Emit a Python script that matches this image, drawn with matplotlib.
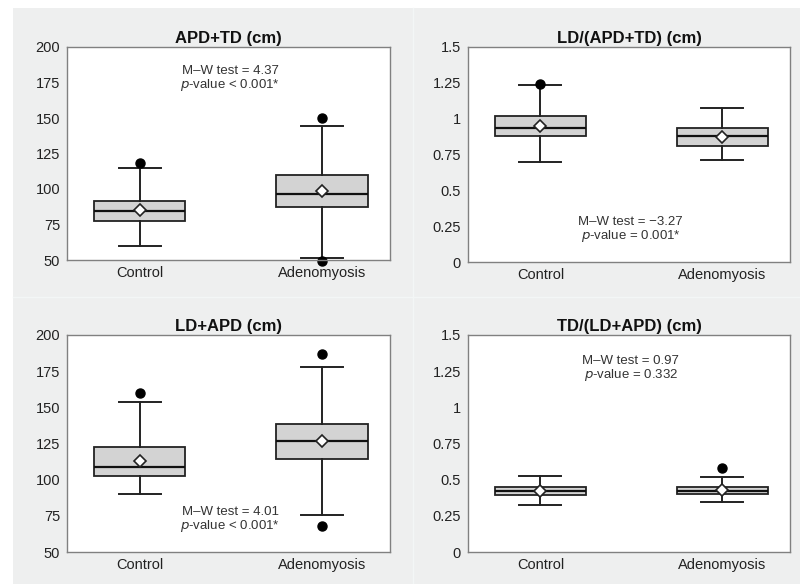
import matplotlib.pyplot as plt
from matplotlib.patches import Rectangle
from matplotlib.lines import Line2D

plt.rcParams['font.family'] = ['Liberation Sans', 'DejaVu Sans']

groups = ['Control', 'Adenomyosis']

titles = ['APD+TD (cm)', 'LD/(APD+TD) (cm)', 'LD+APD (cm)', 'TD/(LD+APD) (cm)']

# box stats per panel: [control, adenomyosis]
q1 = [[77.4, 87.0], [0.879, 0.807], [102.6, 114.0], [0.391, 0.402]]
med = [[84.5, 96.6], [0.937, 0.877], [109.1, 126.5], [0.419, 0.423]]
q3 = [[91.7, 109.8], [1.019, 0.935], [122.3, 138.8], [0.447, 0.447]]
whis_lo = [[60.1, 51.7], [0.700, 0.714], [90.0, 75.6], [0.326, 0.344]]
whis_hi = [[114.5, 144.5], [1.237, 1.074], [153.5, 177.9], [0.528, 0.521]]
means = [[85.2, 98.8], [0.946, 0.872], [112.8, 126.5], [0.419, 0.428]]
outliers = [[[118.0], [150.3, 49.5]], [[1.244], []], [[160.0], [187.2, 67.9]], [[], [0.579]]]

mw_stat = ['4.37', '\u22123.27', '4.01', '0.97']
p_text = ['< 0.001*', '= 0.001*', '< 0.001*', '= 0.332']
text_y = [0.887, 0.186, 0.184, 0.88]

y_lims = [(50, 200), (0, 1.5), (50, 200), (0, 1.5)]
y_ticks = [[50, 75, 100, 125, 150, 175, 200],
           [0, 0.25, 0.5, 0.75, 1, 1.25, 1.5],
           [50, 75, 100, 125, 150, 175, 200],
           [0, 0.25, 0.5, 0.75, 1, 1.25, 1.5]]
y_ticklabels = [['50', '75', '100', '125', '150', '175', '200'],
                ['0', '0.25', '0.5', '0.75', '1', '1.25', '1.5'],
                ['50', '75', '100', '125', '150', '175', '200'],
                ['0', '0.25', '0.5', '0.75', '1', '1.25', '1.5']]

W, H = 800, 584
fig = plt.figure(figsize=(8, 5.84), dpi=100, facecolor='white')

# light grey page background with faint separators
fig.patches.append(Rectangle((13 / W, 0), 1 - 13 / W, 1 - 8 / H, transform=fig.transFigure,
                             facecolor='#eeefef', edgecolor='none', zorder=-10))
fig.lines.append(Line2D([413 / W, 413 / W], [0, 1 - 8 / H], transform=fig.transFigure,
                        color='#f3f6f6', lw=1))
fig.lines.append(Line2D([13 / W, 1], [1 - 297 / H, 1 - 297 / H], transform=fig.transFigure,
                        color='#f3f6f6', lw=1))

# axes boxes in pixels: left, top, right, bottom
boxes = [(67, 47, 390, 260), (468, 47, 790, 262), (67, 335, 390, 552), (468, 335, 790, 552)]

for i, (l, t, r, b) in enumerate(boxes):
    ax = fig.add_axes([l / W, 1 - b / H, (r - l) / W, (b - t) / H])
    ax.set_facecolor('white')
    stats = []
    for g in range(2):
        stats.append({'q1': q1[i][g], 'med': med[i][g], 'q3': q3[i][g],
                      'whislo': whis_lo[i][g], 'whishi': whis_hi[i][g],
                      'mean': means[i][g], 'fliers': outliers[i][g], 'label': groups[g]})
    ax.bxp(stats, positions=[1, 2], widths=0.5, capwidths=0.23, showmeans=True,
           patch_artist=True,
           boxprops=dict(facecolor='#d3d3d3', edgecolor='#222222', linewidth=1.3),
           medianprops=dict(color='#111111', linewidth=1.6),
           whiskerprops=dict(color='#222222', linewidth=1.4),
           capprops=dict(color='#222222', linewidth=1.4),
           meanprops=dict(marker='D', markerfacecolor='white', markeredgecolor='#222222',
                          markersize=6.5, markeredgewidth=1.2),
           flierprops=dict(marker='o', markerfacecolor='black', markeredgecolor='black',
                           markersize=6.5))
    for art in ax.lines:
        art.set_clip_on(False)
    ax.set_xlim(0.602, 2.372)
    ax.set_ylim(*y_lims[i])
    ax.set_yticks(y_ticks[i])
    ax.set_yticklabels(y_ticklabels[i])
    ax.tick_params(length=0, labelsize=10.5, colors='#222222', pad=5)
    ax.tick_params(axis='x', pad=4)
    for s in ax.spines.values():
        s.set_color('#808080')
        s.set_linewidth(1)
    ax.set_title(titles[i], fontsize=12, fontweight='bold', pad=3, color='#111111')
    ax.text(0.505, text_y[i], 'M\u2013W test = ' + mw_stat[i], transform=ax.transAxes,
            ha='center', va='center', fontsize=9.5, color='#333333')
    ax.text(0.505, text_y[i] - 0.066, '$\\it{p}$-value ' + p_text[i], transform=ax.transAxes,
            ha='center', va='center', fontsize=9.5, color='#333333')

fig.savefig('out.png', dpi=100, facecolor=fig.get_facecolor())
